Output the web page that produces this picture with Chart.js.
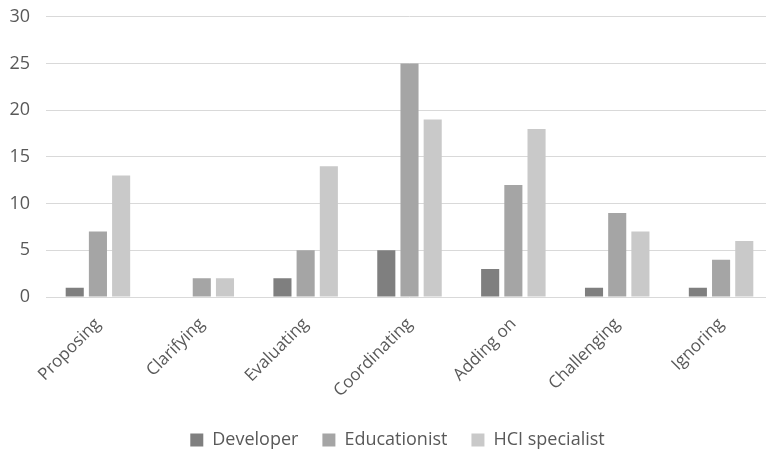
<!DOCTYPE html>
<html>
<head>
<meta charset="utf-8">
<script src="https://cdn.jsdelivr.net/npm/chart.js@4"></script>
<style>
  html, body { margin: 0; padding: 0; background: #fff; overflow: hidden; }
  #wrap { width: 796px; height: 469px; position: relative; margin-top: -10px; }
</style>
</head>
<body>
<div id="wrap"><canvas id="c"></canvas></div>
<script>
const categories = ['Proposing', 'Clarifying', 'Evaluating', 'Coordinating', 'Adding on', 'Challenging', 'Ignoring'];
const developer = [1, 0, 2, 5, 3, 1, 1];
const educationist = [7, 2, 5, 25, 12, 9, 4];
const hciSpecialist = [13, 2, 14, 19, 18, 7, 6];
const yTicks = [0, 5, 10, 15, 20, 25, 30];

const textColor = '#595959';
const fontFamily = '"Open Sans", "Liberation Sans", sans-serif';

// Center the legend under the plot area rather than under the whole canvas.
const centerLegend = {
  id: 'centerLegend',
  afterLayout(chart) {
    const lg = chart.legend;
    if (!lg) return;
    const shift = ((chart.chartArea.left + chart.chartArea.right) - (lg.left + lg.right)) / 2 - 12;
    lg.left += shift;
    lg.right += shift;
  }
};

new Chart(document.getElementById('c'), {
  type: 'bar',
  data: {
    labels: categories,
    datasets: [
      { label: 'Developer', data: developer, backgroundColor: '#7f7f7f' },
      { label: 'Educationist', data: educationist, backgroundColor: '#a5a5a5' },
      { label: 'HCI specialist', data: hciSpecialist, backgroundColor: '#c9c9c9' }
    ]
  },
  plugins: [centerLegend],
  options: {
    responsive: true,
    maintainAspectRatio: false,
    animation: false,
    devicePixelRatio: 1,
    layout: { padding: { left: 0, right: 23, top: 0, bottom: 0 } },
    datasets: { bar: { categoryPercentage: 0.67, barPercentage: 0.78 } },
    scales: {
      x: {
        grid: { display: false },
        border: { display: false },
        ticks: {
          color: textColor,
          font: { family: fontFamily, size: 17 },
          minRotation: 45,
          maxRotation: 45,
          padding: 9
        },
        afterFit: (s) => { s.height = 110; }
      },
      y: {
        min: 0,
        max: 30,
        afterBuildTicks: (s) => { s.ticks = yTicks.map(v => ({ value: v })); },
        grid: { color: '#d9d9d9', lineWidth: 1, drawTicks: false },
        border: { display: false },
        ticks: {
          color: textColor,
          font: { family: fontFamily, size: 18 },
          padding: 16
        },
        afterFit: (s) => { s.width = 46; }
      }
    },
    plugins: {
      legend: {
        position: 'bottom',
        labels: {
          color: textColor,
          font: { family: fontFamily, size: 18 },
          boxWidth: 13,
          boxHeight: 13,
          padding: 24
        }
      },
      tooltip: { enabled: false }
    }
  }
});
</script>
</body>
</html>
